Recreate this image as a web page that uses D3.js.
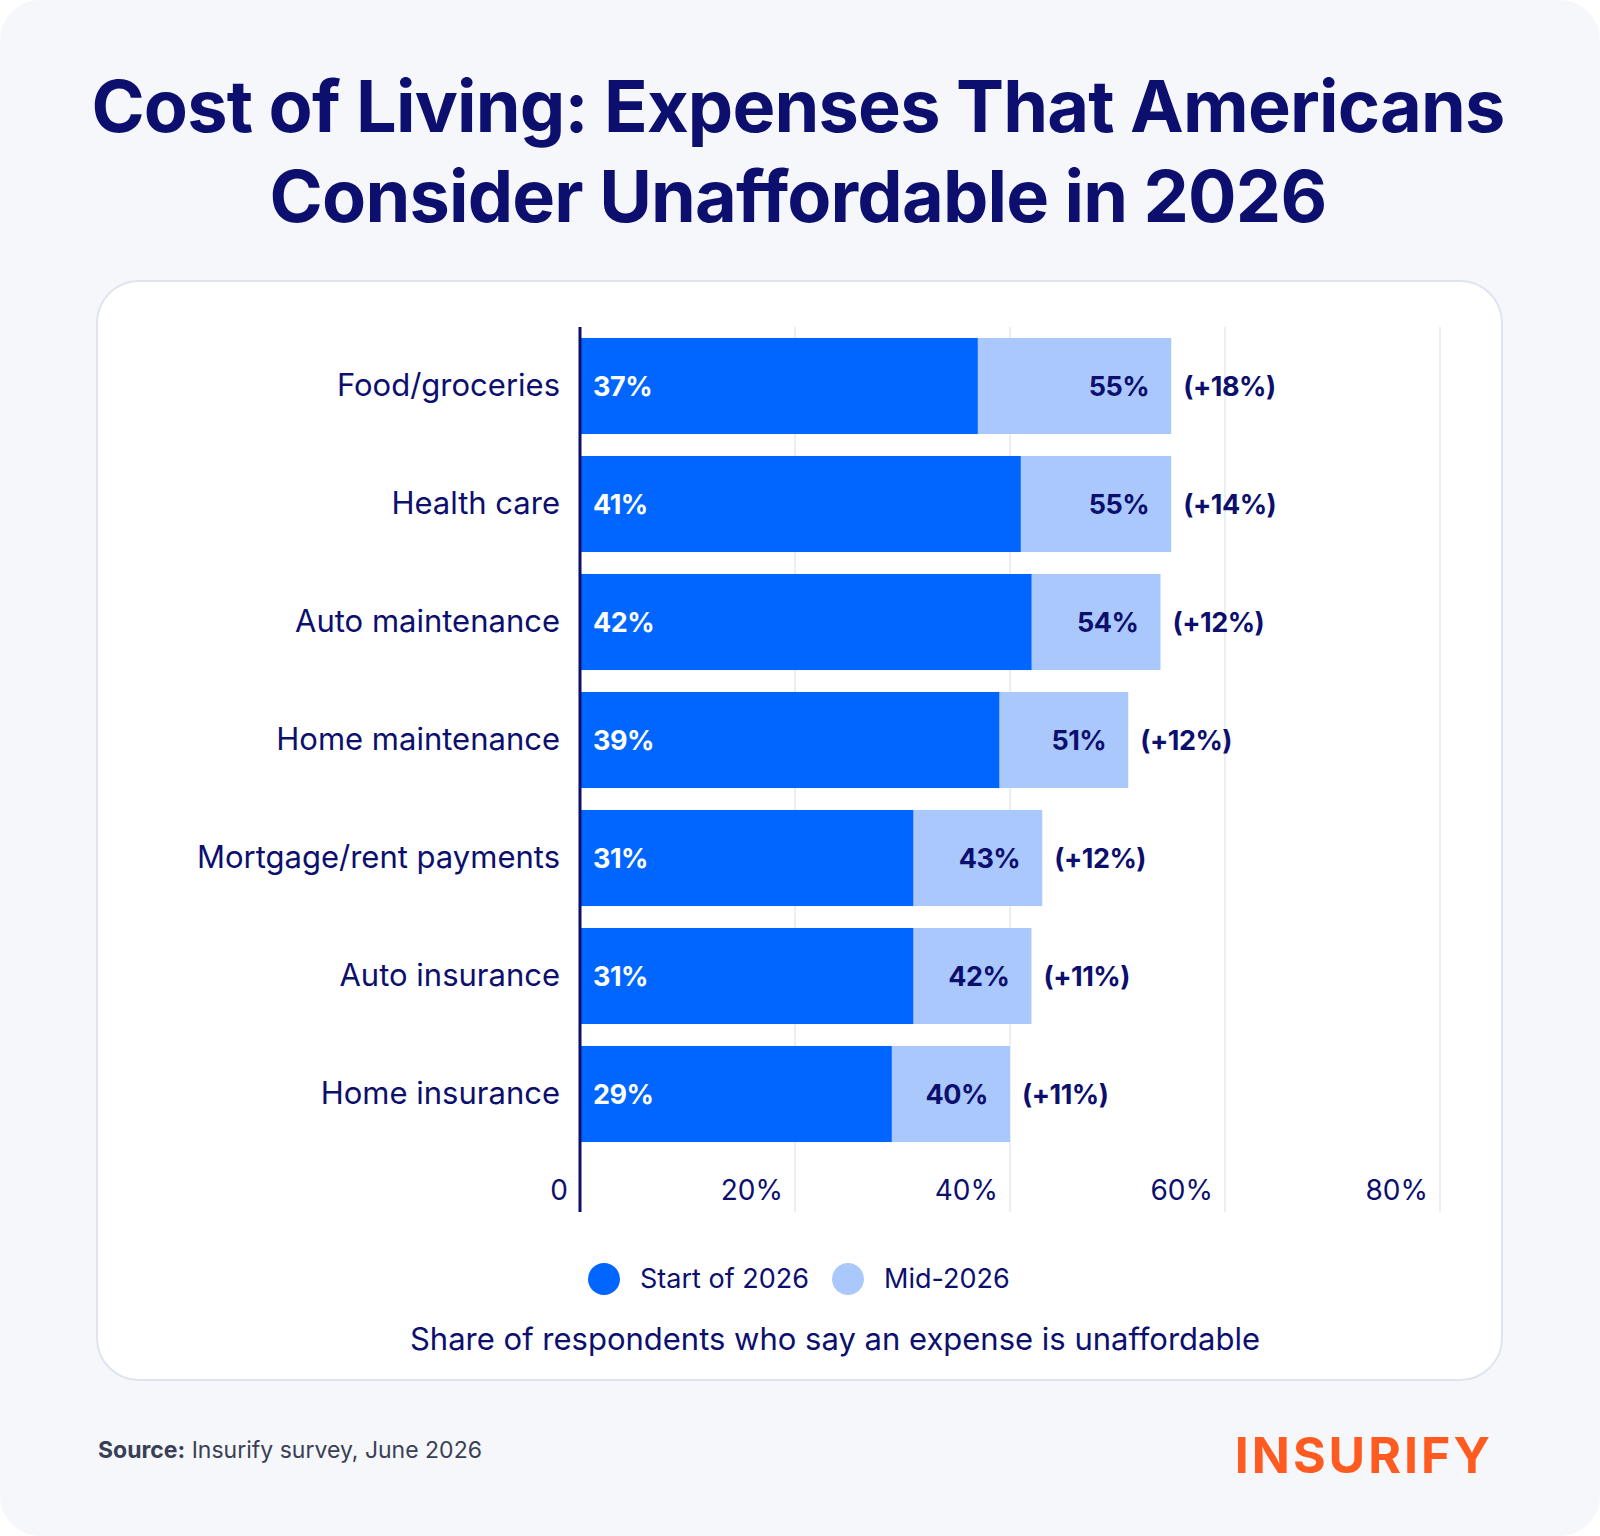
<html lang="en">
<head>
  <meta http-equiv="Content-Type" content="text/html; charset=UTF-8">
  <script src="https://cdn.jsdelivr.net/npm/d3@7"></script>
  <style>body{margin:0;background:#fff;} text{font-family:Inter,"DejaVu Sans",sans-serif;}</style>
</head>
<body>
<script>
  var categories = ["Food/groceries", "Health care", "Auto maintenance", "Home maintenance",
                    "Mortgage/rent payments", "Auto insurance", "Home insurance"];
  var startValues = [37, 41, 42, 39, 31, 31, 29];
  var midValues = [55, 55, 54, 51, 43, 42, 40];
  var changes = ["+18%", "+14%", "+12%", "+12%", "+12%", "+11%", "+11%"];
  var tickValues = [0, 20, 40, 60, 80];

  var navy = "#0c0f6e", blue = "#0066ff", light = "#abc8fd";
  var svg = d3.select("body").append("svg").attr("width", 1600).attr("height", 1536);

  svg.append("rect").attr("width", 1600).attr("height", 1536).attr("rx", 40).attr("fill", "#f5f7fb");
  svg.append("rect").attr("x", 97).attr("y", 281).attr("width", 1405).attr("height", 1099)
    .attr("rx", 42).attr("fill", "#fff").attr("stroke", "#dfe4ee").attr("stroke-width", 2);

  svg.selectAll(".title").data(["Cost of Living: Expenses That Americans", "Consider Unaffordable in 2026"])
    .enter().append("text").attr("x", 798).attr("y", function(d, i) { return 132 + i * 90; })
    .attr("text-anchor", "middle").attr("font-size", 72).attr("font-weight", 700)
    .attr("letter-spacing", -0.8).attr("fill", navy).text(function(d) { return d; });

  var x = d3.scaleLinear().domain([0, 80]).range([580, 1440]);
  var y = d3.scaleBand().domain(categories).range([327, 1153]).paddingInner(0.186).paddingOuter(0.093);

  svg.selectAll(".grid").data(tickValues.slice(1)).enter().append("line")
    .attr("x1", x).attr("x2", x).attr("y1", 327).attr("y2", 1212)
    .attr("stroke", "#eceef3").attr("stroke-width", 2);

  svg.selectAll(".tick").data(tickValues).enter().append("text")
    .attr("x", function(d) { return d === 0 ? 568 : x(d) - 12; }).attr("y", 1200)
    .attr("text-anchor", "end").attr("font-size", 28).attr("fill", navy)
    .text(function(d) { return d === 0 ? "0" : d + "%"; });

  var rows = categories.map(function(c, i) {
    return { cat: c, start: startValues[i], mid: midValues[i], change: changes[i] };
  });

  svg.selectAll(".mid").data(rows).enter().append("rect")
    .attr("x", x(0)).attr("y", function(d) { return y(d.cat); })
    .attr("width", function(d) { return x(d.mid) - x(0); }).attr("height", y.bandwidth()).attr("fill", light);
  svg.selectAll(".start").data(rows).enter().append("rect")
    .attr("x", x(0)).attr("y", function(d) { return y(d.cat); })
    .attr("width", function(d) { return x(d.start) - x(0); }).attr("height", y.bandwidth()).attr("fill", blue);

  function cy(d) { return y(d.cat) + y.bandwidth() / 2 + 10; }

  svg.selectAll(".cat").data(rows).enter().append("text")
    .attr("x", 560).attr("y", cy).attr("text-anchor", "end").attr("font-size", 31).attr("fill", navy)
    .text(function(d) { return d.cat; });
  svg.selectAll(".sl").data(rows).enter().append("text")
    .attr("x", 593).attr("y", cy).attr("font-size", 27).attr("font-weight", 700).attr("fill", "#fff")
    .attr("letter-spacing", -0.5).text(function(d) { return d.start + "%"; });
  svg.selectAll(".ml").data(rows).enter().append("text")
    .attr("x", function(d) { return x(d.mid) - 22; }).attr("y", cy).attr("text-anchor", "end")
    .attr("font-size", 27).attr("font-weight", 700).attr("fill", navy).attr("letter-spacing", -0.5)
    .text(function(d) { return d.mid + "%"; });
  svg.selectAll(".cl").data(rows).enter().append("text")
    .attr("x", function(d) { return x(d.mid) + 12; }).attr("y", cy)
    .attr("font-size", 27).attr("font-weight", 700).attr("fill", navy).attr("letter-spacing", -0.5)
    .text(function(d) { return "(" + d.change + ")"; });

  svg.append("line").attr("x1", 580).attr("x2", 580).attr("y1", 327).attr("y2", 1212)
    .attr("stroke", navy).attr("stroke-width", 3);

  var legend = [["Start of 2026", blue, 604], ["Mid-2026", light, 848]];
  legend.forEach(function(l) {
    svg.append("circle").attr("cx", l[2]).attr("cy", 1279).attr("r", 16).attr("fill", l[1]);
    svg.append("text").attr("x", l[2] + 36).attr("y", 1288).attr("font-size", 27).attr("fill", navy).text(l[0]);
  });

  svg.append("text").attr("x", 835).attr("y", 1350).attr("text-anchor", "middle")
    .attr("font-size", 31).attr("fill", navy).text("Share of respondents who say an expense is unaffordable");

  var src = svg.append("text").attr("x", 98).attr("y", 1458).attr("font-size", 23).attr("fill", "#3a3f55");
  src.append("tspan").attr("font-weight", 700).text("Source:");
  src.append("tspan").text(" Insurify survey, June 2026");

  svg.append("text").attr("x", 1493).attr("y", 1473).attr("text-anchor", "end")
    .attr("font-size", 50).attr("font-weight", 700).attr("fill", "#ff5a1f").attr("letter-spacing", 3)
    .text("INSURIFY");
</script>
</body>
</html>
